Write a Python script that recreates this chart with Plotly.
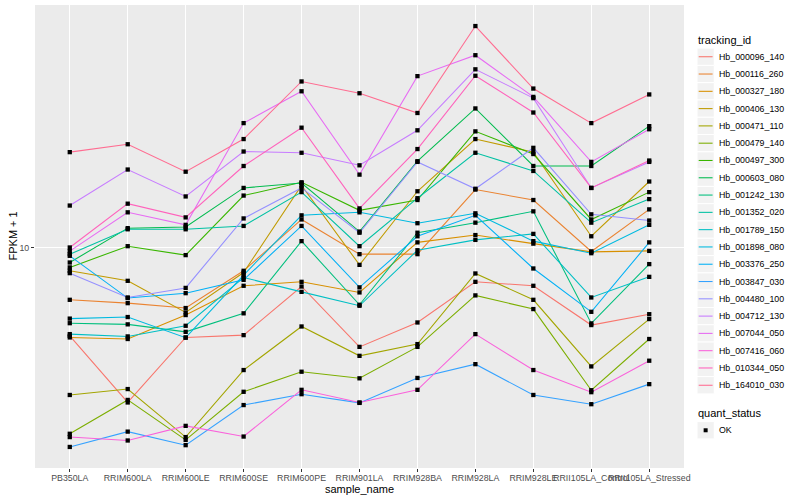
import math
import plotly.graph_objects as go

# ---------------- data ----------------
samples = ["PB350LA", "RRIM600LA", "RRIM600LE", "RRIM600SE", "RRIM600PE", "RRIM901LA",
           "RRIM928BA", "RRIM928LA", "RRIM928LE", "RRII105LA_Control", "RRII105LA_Stressed"]

tracking_ids = ["Hb_000096_140", "Hb_000116_260", "Hb_000327_180", "Hb_000406_130",
                "Hb_000471_110", "Hb_000479_140", "Hb_000497_300", "Hb_000603_080",
                "Hb_001242_130", "Hb_001352_020", "Hb_001789_150", "Hb_001898_080",
                "Hb_003376_250", "Hb_003847_030", "Hb_004480_100", "Hb_004712_130",
                "Hb_007044_050", "Hb_007416_060", "Hb_010344_050", "Hb_164010_030"]

# FPKM + 1 per sample
hb_000096_140 = [5.07, 3.04, 5.01, 5.10, 7.41, 4.66, 5.62, 7.68, 7.45, 5.51, 5.99]
hb_000116_260 = [6.69, 6.52, 6.28, 8.36, 12.4, 9.50, 9.50, 15.6, 14.4, 9.70, 13.4]
hb_000327_180 = [5.01, 4.95, 5.95, 7.45, 7.68, 7.08, 10.4, 11.0, 10.3, 9.67, 9.74]
hb_000406_130 = [8.36, 7.74, 6.07, 8.25, 16.1, 8.75, 15.4, 23.0, 20.8, 10.9, 16.6]
hb_000471_110 = [3.22, 3.37, 2.33, 3.90, 5.45, 4.35, 4.76, 8.19, 6.69, 4.01, 5.77]
hb_000479_140 = [2.39, 3.10, 2.28, 3.30, 3.85, 3.66, 4.66, 6.92, 6.23, 3.34, 4.95]
hb_000497_300 = [8.58, 10.1, 9.43, 14.9, 16.5, 13.3, 14.4, 24.4, 20.5, 12.4, 15.3]
hb_000603_080 = [8.91, 11.6, 11.7, 15.8, 16.4, 11.3, 19.4, 29.1, 18.7, 18.7, 25.4]
hb_001242_130 = [5.59, 5.54, 5.23, 6.03, 10.5, 6.44, 11.2, 12.1, 13.2, 5.58, 8.80]
hb_001352_020 = [9.50, 11.5, 11.5, 11.8, 15.3, 10.1, 14.6, 20.7, 18.0, 12.1, 14.5]
hb_001789_150 = [5.14, 5.05, 5.48, 7.94, 7.11, 6.39, 9.79, 10.6, 11.1, 6.81, 7.98]
hb_001898_080 = [5.79, 5.86, 5.00, 8.09, 12.8, 13.1, 12.05, 13.0, 10.5, 9.57, 11.9]
hb_003376_250 = [9.38, 6.78, 7.04, 7.80, 11.8, 7.36, 10.9, 12.8, 8.51, 6.10, 10.4]
hb_003847_030 = [2.16, 2.43, 2.19, 2.98, 3.24, 3.03, 3.67, 4.08, 3.22, 3.00, 3.50]
hb_004480_100 = [8.21, 6.81, 7.33, 12.5, 15.8, 11.2, 19.3, 15.7, 21.5, 12.9, 12.3]
hb_004712_130 = [13.8, 18.2, 14.8, 20.9, 20.7, 18.8, 24.6, 39.3, 31.5, 15.8, 19.3]
hb_007044_050 = [9.72, 13.1, 11.9, 26.0, 33.2, 17.5, 37.3, 43.8, 31.8, 19.3, 24.8]
hb_007416_060 = [2.33, 2.27, 2.54, 2.34, 3.35, 3.04, 3.35, 5.14, 3.90, 3.29, 4.19]
hb_010344_050 = [10.0, 14.0, 12.6, 18.7, 25.1, 13.5, 21.3, 37.4, 28.2, 15.8, 19.5]
hb_164010_030 = [20.8, 22.1, 17.9, 23.0, 35.8, 32.7, 28.1, 54.8, 33.9, 26.0, 32.4]

series = [hb_000096_140, hb_000116_260, hb_000327_180, hb_000406_130, hb_000471_110,
          hb_000479_140, hb_000497_300, hb_000603_080, hb_001242_130, hb_001352_020,
          hb_001789_150, hb_001898_080, hb_003376_250, hb_003847_030, hb_004480_100,
          hb_004712_130, hb_007044_050, hb_007416_060, hb_010344_050, hb_164010_030]

quant_status = ["OK"]

# ---------------- style ----------------
palette = ["#F8766D", "#EA8331", "#D89000", "#C09B00", "#A3A500", "#7CAE00", "#39B600",
           "#00BB4E", "#00BF7D", "#00C1A3", "#00BFC4", "#00BAE0", "#00B0F6", "#35A2FF",
           "#9590FF", "#C77CFF", "#E76BF3", "#FA62DB", "#FF62BC", "#FF6C91"]
FONT = "Liberation Sans, Arial, Helvetica, sans-serif"
W, H = 800, 500
X0, X1, Y0, Y1 = 35, 684, 5, 467.7   # panel box in pixels


def px(x):
    return (x - X0) / (X1 - X0)


def py(y):
    return (Y1 - y) / (Y1 - Y0)


fig = go.Figure()
for tid, vals, col in zip(tracking_ids, series, palette):
    fig.add_trace(go.Scatter(x=samples, y=vals, mode="lines", name=tid,
                             line=dict(color=col, width=1.07), showlegend=False,
                             hoverinfo="skip"))
for tid, vals in zip(tracking_ids, series):
    fig.add_trace(go.Scatter(x=samples, y=vals, mode="markers", name=tid,
                             marker=dict(symbol="square", size=4.3, color="black"),
                             showlegend=False))

# y range: log10 with ggplot-like 5% expansion
allv = [v for s in series for v in s]
lmin, lmax = math.log10(min(allv)), math.log10(max(allv))
span = lmax - lmin
yr = [lmin - 0.05 * span, lmax + 0.05 * span]

fig.update_layout(
    width=W, height=H, autosize=False,
    margin=dict(l=X0, r=W - X1, t=Y0, b=H - Y1, pad=0),
    paper_bgcolor="white", plot_bgcolor="#EBEBEB",
    font=dict(family=FONT, size=11, color="black"),
    hovermode=False,
    xaxis=dict(type="category", categoryorder="array", categoryarray=samples,
               range=[-0.6, len(samples) - 1 + 0.6], showgrid=True, gridcolor="white",
               gridwidth=1.07, zeroline=False, showline=False, ticks="outside",
               ticklen=3, tickwidth=1.07, tickcolor="#333333", tickangle=0,
               ticklabelstandoff=-2,
               tickfont=dict(family=FONT, size=8.8, color="#4D4D4D")),
    yaxis=dict(type="log", range=yr, tickvals=[10], ticktext=["10"], showgrid=True,
               gridcolor="white", gridwidth=1.07, zeroline=False, showline=False,
               ticks="outside", ticklen=3, tickwidth=1.07, tickcolor="#333333",
               tickfont=dict(family=FONT, size=8.8, color="#4D4D4D")),
)

annotations = [
    dict(text="sample_name", x=px((X0 + X1) / 2), y=py(489), xref="paper", yref="paper",
         showarrow=False, xanchor="center", yanchor="middle",
         font=dict(family=FONT, size=11, color="black")),
    dict(text="FPKM + 1", x=px(12), y=py((Y0 + Y1) / 2), xref="paper", yref="paper",
         showarrow=False, xanchor="center", yanchor="middle", textangle=-90,
         font=dict(family=FONT, size=11, color="black")),
    dict(text="tracking_id", x=px(696), y=py(40), xref="paper", yref="paper",
         showarrow=False, xanchor="left", yanchor="middle",
         font=dict(family=FONT, size=11, color="black")),
    dict(text="quant_status", x=px(696), y=py(412.7), xref="paper", yref="paper",
         showarrow=False, xanchor="left", yanchor="middle",
         font=dict(family=FONT, size=11, color="black")),
]
shapes = []
KEY = 17.28
for i, (tid, col) in enumerate(zip(tracking_ids, palette)):
    yc = 56.7 + KEY * i
    shapes.append(dict(type="rect", xref="paper", yref="paper",
                       x0=px(697), x1=px(697 + KEY), y0=py(yc - KEY / 2), y1=py(yc + KEY / 2),
                       fillcolor="#F2F2F2", line=dict(color="white", width=1)))
    shapes.append(dict(type="line", xref="paper", yref="paper",
                       x0=px(698.7), x1=px(697 + KEY - 1.7), y0=py(yc), y1=py(yc),
                       line=dict(color=col, width=1.07)))
    annotations.append(dict(text=tid, x=px(716.5), y=py(yc), xref="paper", yref="paper",
                            showarrow=False, xanchor="left", yanchor="middle",
                            font=dict(family=FONT, size=8.8, color="black")))
for j, qs in enumerate(quant_status):
    yc = 430 + KEY * j
    shapes.append(dict(type="rect", xref="paper", yref="paper",
                       x0=px(697), x1=px(697 + KEY), y0=py(yc - KEY / 2), y1=py(yc + KEY / 2),
                       fillcolor="#F2F2F2", line=dict(color="white", width=1)))
    shapes.append(dict(type="rect", xref="paper", yref="paper",
                       x0=px(697 + KEY / 2 - 2), x1=px(697 + KEY / 2 + 2),
                       y0=py(yc - 2), y1=py(yc + 2), fillcolor="black", line=dict(width=0)))
    annotations.append(dict(text=qs, x=px(716.5), y=py(yc), xref="paper", yref="paper",
                            showarrow=False, xanchor="left", yanchor="middle",
                            font=dict(family=FONT, size=8.8, color="black")))

fig.update_layout(annotations=annotations, shapes=shapes)

fig.write_html("out.html", config={"displayModeBar": False},
               post_script="document.body.style.margin='0';")
